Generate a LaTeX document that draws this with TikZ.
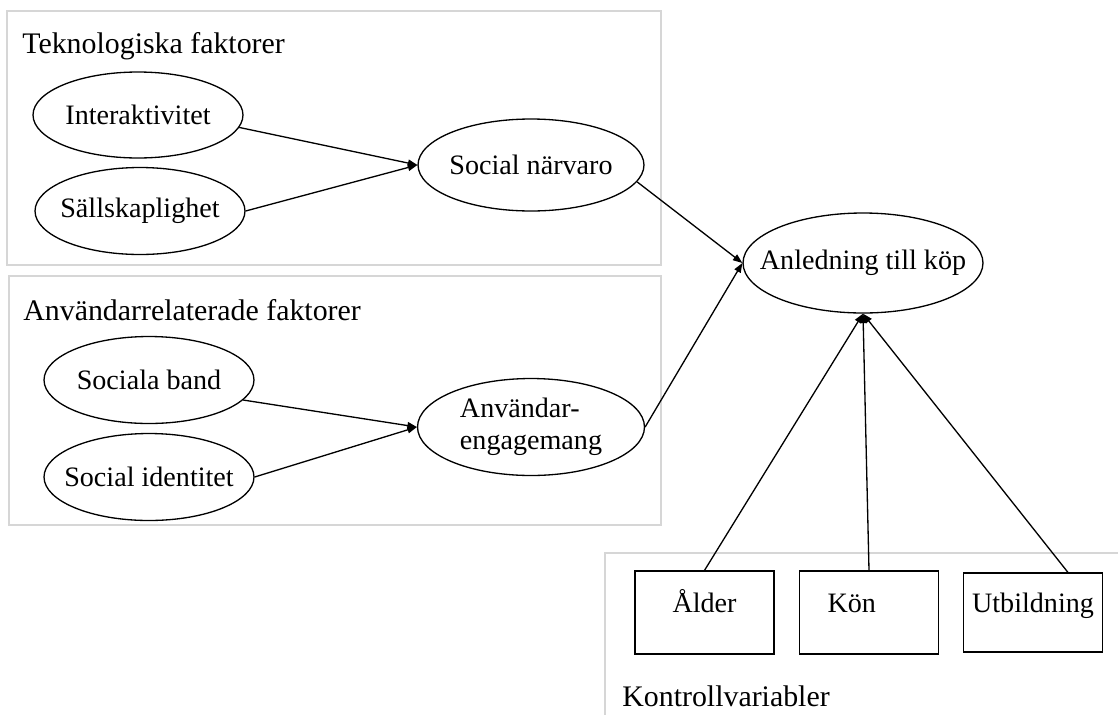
\documentclass[tikz,border=0pt]{standalone}
\usepackage{fontspec}
\setmainfont{Liberation Serif}
\usetikzlibrary{shapes.geometric,arrows.meta}

\begin{document}
\begin{tikzpicture}[x=0.02cm, y=-0.02cm,
	faktor/.style={ellipse, draw, line width=0.75pt, inner sep=0pt, inner xsep=-1cm, minimum width=4.2cm, minimum height=1.74cm, font=\fontsize{16}{18}\selectfont},
	kontroll/.style={rectangle, draw, line width=0.75pt, minimum width=2.78cm, minimum height=1.66cm, text height=0.4cm, text depth=0.4cm, font=\fontsize{16}{18}\selectfont},
	rubrik/.style={anchor=base west, inner sep=0pt, font=\fontsize{17}{20}\selectfont},
	ram/.style={draw=black!16, line width=1.1pt},
	pil/.style={line width=0.75pt, -{Triangle[length=1.9mm, width=1.4mm]}}]
	
	\useasboundingbox (0,0) rectangle (1118,714);
	
	\draw[ram] (7,11) rectangle (661,265);
	\draw[ram] (9,276) rectangle (661,525);
	\draw[ram] (1130,553) -- (605,553) -- (605,730);
	
	\node[rubrik] (tek) at (22,53) {Teknologiska faktorer};
	\node[rubrik] (anv) at (23,320) {Användarrelaterade faktorer};
	\node[rubrik] (kvar) at (622,706) {Kontrollvariabler};
	
	\node[faktor, minimum height=1.72cm] (inter) at (138,115) {Interaktivitet};
	\node[faktor] (sall) at (140,211) {Sällskaplighet};
	\node[faktor, minimum width=4.52cm, minimum height=1.84cm] (socnar) at (531,165) {Social närvaro};
	
	\node[faktor] (band) at (149,380) {Sociala band};
	\node[faktor] (ident) at (149,477) {Social identitet};
	\node[faktor, minimum width=4.54cm, minimum height=1.94cm, align=left] (eng) at (531,427) {Användar-\\engagemang};
	
	\node[faktor, minimum width=4.8cm, minimum height=2cm] (anl) at (863,263) {Anledning till köp};
	
	\node[kontroll] (alder) at (704.5,612.5) {Ålder};
	\node[kontroll, inner xsep=0.56cm, text width=1.66cm, align=left] (kon) at (869,612.5) {Kön};
	\node[kontroll, minimum height=1.58cm] (utb) at (1033,612.5) {Utbildning};
	
	\draw[pil] (inter.-7) -- (socnar.west);
	\draw[pil] (sall.east) -- (socnar.west);
	\draw[pil] (band.-12) -- (eng.west);
	\draw[pil] (ident.east) -- (eng.west);
	\draw[pil] (socnar.-9) -- (anl.west);
	\draw[pil] (eng.east) -- (anl.west);
	\draw[pil] (alder.north) -- (anl.south);
	\draw[pil] (kon.north) -- (anl.south);
	\draw[pil] (utb.49) -- (anl.south);
	
\end{tikzpicture}
\end{document}
